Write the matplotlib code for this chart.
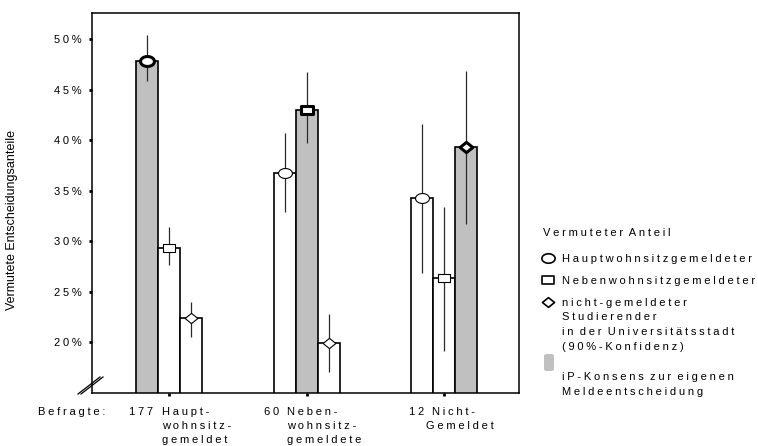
#!/usr/bin/env python3
"""Vermutete Entscheidungsanteile nach Meldestatus der Befragten."""

import matplotlib

matplotlib.use("Agg")

import matplotlib.pyplot as plt
import numpy as np
from matplotlib.lines import Line2D
from matplotlib.patches import FancyBboxPatch
from matplotlib.path import Path

plt.rcParams["font.family"] = ["Liberation Sans", "DejaVu Sans"]

INK = "#000000"
GRAY = "#c0c0c0"
ERR = "#2a2a2a"

# data
groups = ["177", "60", "12"]
group_words = [
    ["Haupt-", "wohnsitz-", "gemeldet"],
    ["Neben-", "wohnsitz-", "gemeldete"],
    ["Nicht-", "Gemeldet"],
]
haupt = [47.9, 36.8, 34.3]
haupt_lo = [45.9, 32.9, 26.9]
haupt_hi = [50.4, 40.7, 41.6]
neben = [29.3, 43.05, 26.35]
neben_lo = [27.7, 39.7, 19.2]
neben_hi = [31.4, 46.8, 33.4]
nicht = [22.4, 19.9, 39.35]
nicht_lo = [20.5, 17.1, 31.7]
nicht_hi = [24.0, 22.8, 46.9]
yticks = [20, 25, 30, 35, 40, 45, 50]

W, H = 758, 446
SP = "\u2005"


def spaced(s):
    return SP.join(s)


def fx(x):
    return x / W


def fy(y):
    return 1 - y / H


def marker_path(kind):
    if kind == "o":
        t = np.linspace(0, 2 * np.pi, 64)
        return Path(np.column_stack([1.4 * np.cos(t), np.sin(t)]), closed=True)
    if kind == "s":
        return Path([(-1.4, -1), (1.4, -1), (1.4, 1), (-1.4, 1), (-1.4, -1)], closed=True)
    return Path([(-1.25, 0), (0, 1), (1.25, 0), (0, -1), (-1.25, 0)], closed=True)


MARKERS = {"o": (marker_path("o"), 10.0), "s": (marker_path("s"), 8.6), "d": (marker_path("d"), 9.2)}

fig = plt.figure(figsize=(W / 100, H / 100), dpi=100)
ax = fig.add_axes([fx(92), 1 - 393 / H, 427 / W, 380 / H])

series = [
    (haupt, haupt_lo, haupt_hi, "o"),
    (neben, neben_lo, neben_hi, "s"),
    (nicht, nicht_lo, nicht_hi, "d"),
]
gap = 6.25
centers = np.arange(len(groups)) * gap

for k, (vals, lo, hi, mk) in enumerate(series):
    xs = centers + (k - 1)
    colors = [GRAY if g == k else "white" for g in range(len(groups))]
    ax.bar(xs, vals, width=1.0, color=colors, edgecolor=INK, linewidth=1.2, zorder=2)
    ax.vlines(xs, lo, hi, color=ERR, linewidth=0.9, zorder=3)
    path, ms = MARKERS[mk]
    for g in range(len(groups)):
        bold = g == k
        ax.plot(
            xs[g], vals[g], linestyle="none", marker=path, markersize=ms,
            markerfacecolor="white", markeredgecolor=INK,
            markeredgewidth=2.2 if bold else 0.8, zorder=4,
        )

ax.set_xlim(-3.5, 15.9)
ax.set_ylim(15.0, 52.6)
ax.set_yticks(yticks)
ax.set_yticklabels([spaced(f"{v}%") for v in yticks], fontsize=8)
ax.set_xticks(centers)
ax.set_xticklabels([])
ax.tick_params(axis="both", length=2.2, width=2.0, color=INK, pad=5)
for sp in ax.spines.values():
    sp.set_linewidth(1.1)

# axis break mark
for dx in (0, 3):
    fig.add_artist(Line2D([fx(78 + dx), fx(100 + dx)], [fy(394), fy(377)],
                          color=INK, linewidth=0.9))

# y label
fig.text(fx(12), fy(220), "Vermutete Entscheidungsanteile", rotation=90,
         ha="center", va="center", fontsize=9)

# x category labels
fs = 8
fig.text(fx(38), fy(415), spaced("Befragte:"), ha="left", va="baseline", fontsize=fs)
num_dx = [-40, -43, -35]
word_dx = [[-7, -7, -7], [-20, -20, -20], [-12, -18]]
for g, gx in enumerate(centers):
    cx = ax.transData.transform((gx, 0))[0]
    fig.text(fx(cx + num_dx[g]), fy(415), spaced(groups[g]), ha="left", va="baseline", fontsize=fs)
    for i, word in enumerate(group_words[g]):
        fig.text(fx(cx + word_dx[g][i]), fy(415 + 14 * i), spaced(word),
                 ha="left", va="baseline", fontsize=fs)

# legend
fig.text(fx(543), fy(236), spaced("Vermuteter") + "  " + spaced("Anteil"),
         ha="left", va="baseline", fontsize=fs)
leg = [
    ("o", 258, ["Hauptwohnsitzgemeldeter"], 262),
    ("s", 280, ["Nebenwohnsitzgemeldeter"], 284),
    ("d", 302, ["nicht-gemeldeter", "Studierender", "in der Universitätsstadt", "(90%-Konfidenz)"], 306),
]
for mk, my, lines, base in leg:
    path, ms = MARKERS[mk]
    fig.add_artist(Line2D([fx(548)], [fy(my)], linestyle="none", marker=path,
                          markersize=ms * 0.95, markerfacecolor="white",
                          markeredgecolor=INK, markeredgewidth=1.2))
    for i, line in enumerate(lines):
        txt = "  ".join(spaced(w) for w in line.split(" "))
        fig.text(fx(562), fy(base + 14.5 * i), txt, ha="left", va="baseline", fontsize=fs)

fig.add_artist(FancyBboxPatch((fx(544), fy(371)), 10 / W, 17 / H,
                              boxstyle="round,pad=0,rounding_size=0.004",
                              facecolor=GRAY, edgecolor="none", transform=fig.transFigure))
for i, line in enumerate(["iP-Konsens zur eigenen", "Meldeentscheidung"]):
    txt = "  ".join(spaced(w) for w in line.split(" "))
    fig.text(fx(562), fy(380 + 15 * i), txt, ha="left", va="baseline", fontsize=fs)

fig.savefig("out.png", dpi=100)
